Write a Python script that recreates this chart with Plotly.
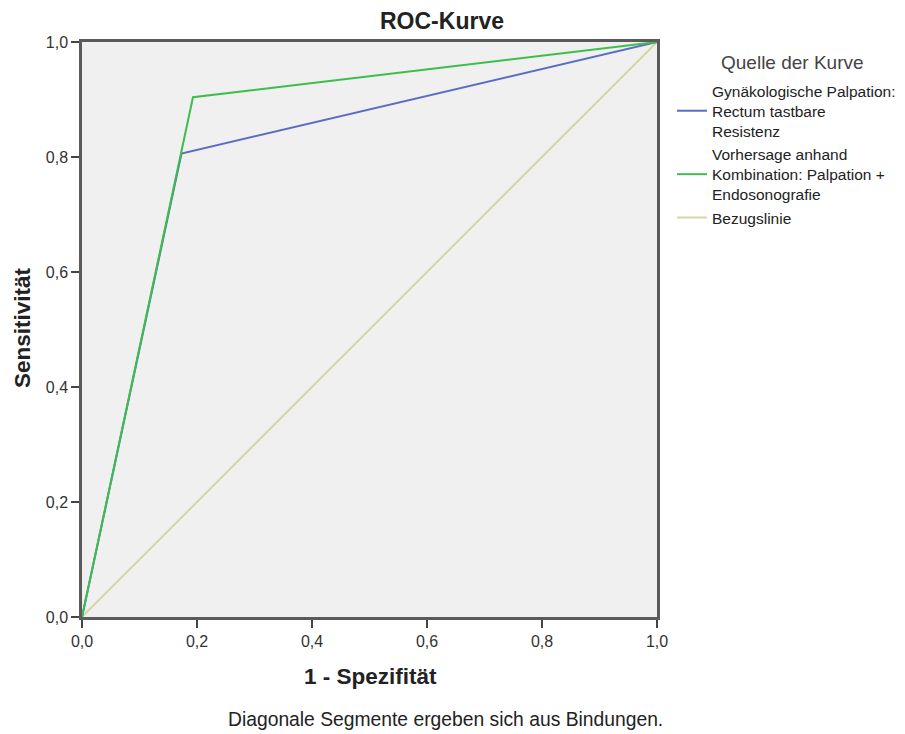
import plotly.graph_objects as go

# ROC data
fpr_palpation = [0.0, 0.173, 1.0]
tpr_palpation = [0.0, 0.806, 1.0]
fpr_kombination = [0.0, 0.193, 1.0]
tpr_kombination = [0.0, 0.904, 1.0]
ref_x = [0.0, 1.0]
ref_y = [0.0, 1.0]

names = [
    "Gynäkologische Palpation:<br>Rectum tastbare<br>Resistenz",
    "Vorhersage anhand<br>Kombination: Palpation +<br>Endosonografie",
    "Bezugslinie",
]
tick_vals = [0.0, 0.2, 0.4, 0.6, 0.8, 1.0]
tick_text = ["0,0", "0,2", "0,4", "0,6", "0,8", "1,0"]

FONT = "Liberation Sans, Arial, sans-serif"

fig = go.Figure()
fig.add_trace(go.Scatter(x=ref_x, y=ref_y, mode="lines", name=names[2],
                         line=dict(color="#D6D6A4", width=2), legendrank=3))
fig.add_trace(go.Scatter(x=fpr_palpation, y=tpr_palpation, mode="lines", name=names[0],
                         line=dict(color="#5A6DC2", width=2), legendrank=1))
fig.add_trace(go.Scatter(x=fpr_kombination, y=tpr_kombination, mode="lines", name=names[1],
                         line=dict(color="#3DBE4C", width=2), legendrank=2))

# page offset introduced by the default body margin
OFF = 8
W, H = 905 - OFF, 734 - OFF
L, R, T, B = 82 - OFF, 657 - OFF, 42 - OFF, 617 - OFF
ph = B - T
pw = R - L

def py(p):  # page pixel -> paper y
    return (B - (p - OFF)) / ph

def px(p):  # page pixel -> paper x
    return ((p - OFF) - L) / pw

axis_common = dict(
    range=[0, 1], showgrid=False, zeroline=False,
    showline=True, linecolor="#5A5A5A", linewidth=2.5, mirror=True,
    ticks="outside", ticklen=8, tickwidth=2, tickcolor="#444444",
    tickvals=tick_vals, ticktext=tick_text,
    tickfont=dict(family=FONT, size=16, color="#333333"),
    fixedrange=True,
)

fig.update_layout(
    width=W, height=H,
    margin=dict(l=L, r=W - R, t=T, b=H - B, autoexpand=False),
    plot_bgcolor="#F0F0F0", paper_bgcolor="white",
    font=dict(family=FONT, color="#222222"),
    xaxis=dict(**axis_common),
    yaxis=dict(**axis_common),
    showlegend=True,
    legend=dict(
        x=px(672), y=py(74), xanchor="left", yanchor="top",
        font=dict(family=FONT, size=15.5, color="#222222"),
        tracegroupgap=0, itemwidth=30, bgcolor="rgba(0,0,0,0)",
    ),
    annotations=[
        dict(text="<b>ROC-Kurve</b>", x=px(442), y=py(21), xref="paper", yref="paper",
             showarrow=False, xanchor="center", yanchor="middle",
             font=dict(family=FONT, size=23, color="#222222")),
        dict(text="<b>1 - Spezifität</b>", x=px(370), y=py(676), xref="paper", yref="paper",
             showarrow=False, xanchor="center", yanchor="middle",
             font=dict(family=FONT, size=22.5, color="#222222")),
        dict(text="<b>Sensitivität</b>", x=px(22), y=py(328), xref="paper", yref="paper",
             showarrow=False, xanchor="center", yanchor="middle", textangle=-90,
             font=dict(family=FONT, size=22.5, color="#222222")),
        dict(text="Diagonale Segmente ergeben sich aus Bindungen.", x=px(445), y=py(719),
             xref="paper", yref="paper", showarrow=False, xanchor="center", yanchor="middle",
             font=dict(family=FONT, size=19.3, color="#222222")),
        dict(text="Quelle der Kurve", x=px(792), y=py(63), xref="paper", yref="paper",
             showarrow=False, xanchor="center", yanchor="middle",
             font=dict(family=FONT, size=19, color="#444444")),
    ],
)

fig.write_html("out.html")
